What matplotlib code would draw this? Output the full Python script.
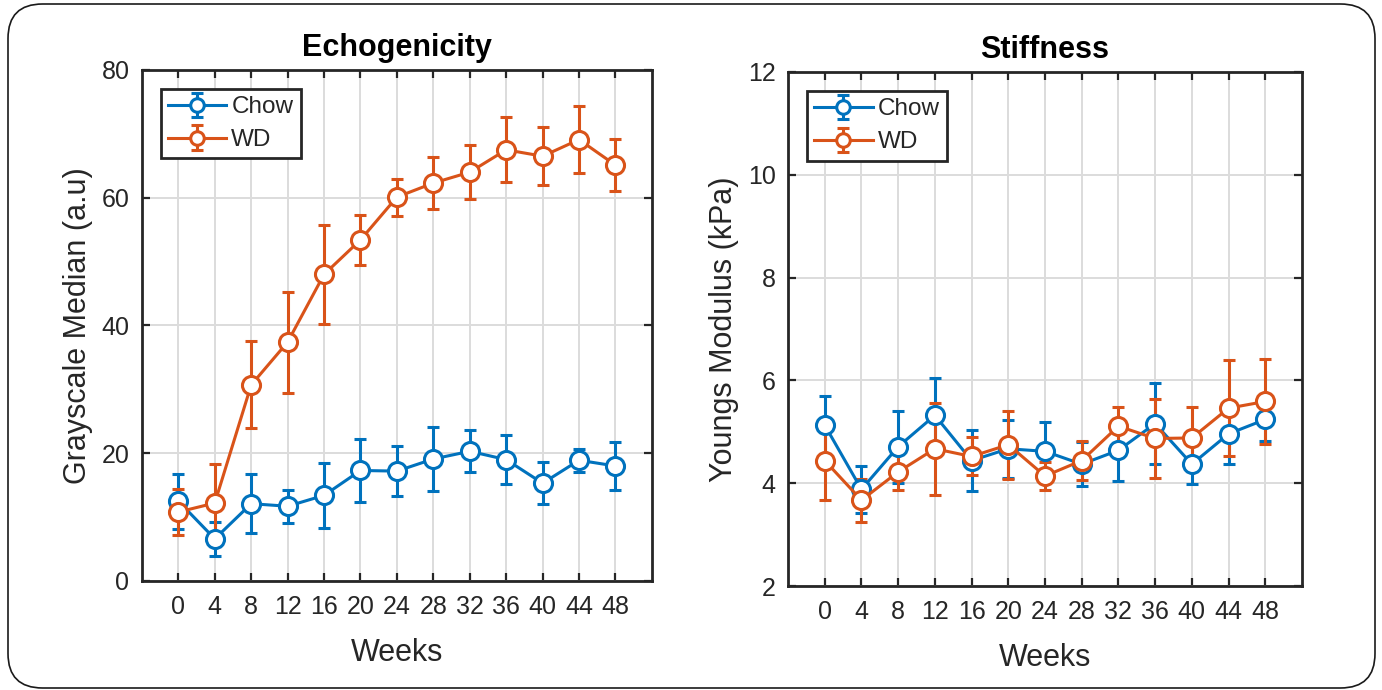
"""
Echogenicity and stiffness over time, Chow vs WD diet.
"""

import matplotlib
matplotlib.use('Agg')
import matplotlib.pyplot as plt
from matplotlib.patches import FancyBboxPatch

plt.rcParams['font.family'] = ['Liberation Sans', 'DejaVu Sans']

weeks = [0, 4, 8, 12, 16, 20, 24, 28, 32, 36, 40, 44, 48]

# Echogenicity (grayscale median, a.u)
echo_chow = [12.5, 6.6, 12.1, 11.7, 13.4, 17.3, 17.2, 19.1, 20.3, 19.0, 15.3, 18.9, 18.0]
echo_chow_err = [4.3, 2.7, 4.6, 2.6, 5.1, 4.9, 3.9, 5.0, 3.3, 3.8, 3.3, 1.8, 3.7]
echo_wd = [10.8, 12.2, 30.7, 37.4, 48.0, 53.4, 60.1, 62.3, 64.0, 67.5, 66.5, 69.1, 65.1]
echo_wd_err = [3.6, 6.1, 6.8, 7.9, 7.8, 3.9, 2.9, 4.1, 4.2, 5.1, 4.5, 5.2, 4.1]

# Stiffness (Youngs modulus, kPa)
stiff_chow = [5.13, 3.88, 4.71, 5.32, 4.44, 4.67, 4.62, 4.37, 4.64, 5.16, 4.37, 4.96, 5.24]
stiff_chow_err = [0.57, 0.45, 0.70, 0.72, 0.60, 0.56, 0.57, 0.43, 0.60, 0.78, 0.38, 0.59, 0.42]
stiff_wd = [4.44, 3.67, 4.22, 4.67, 4.52, 4.75, 4.14, 4.44, 5.11, 4.87, 4.88, 5.46, 5.59]
stiff_wd_err = [0.76, 0.42, 0.35, 0.90, 0.37, 0.66, 0.28, 0.38, 0.37, 0.76, 0.61, 0.94, 0.83]

BLUE = '#0072BD'
ORANGE = '#D95319'
DARK = '#262626'


def draw_panel(ax, chow, chow_err, wd, wd_err, title, ylabel, ylim, yticks):
	ax.set_axisbelow(True)
	ax.grid(True, color='#dcdcdc', linewidth=1.4)
	for vals, errs, color, label in [(chow, chow_err, BLUE, 'Chow'), (wd, wd_err, ORANGE, 'WD')]:
		ax.errorbar(weeks, vals, yerr=errs, fmt='-o', color=color, mfc='white', mec=color,
			ms=13, mew=2.2, lw=2.2, elinewidth=2.2, capsize=4.5, capthick=2.2, label=label)
	ax.set_xlim(-4, 52)
	ax.set_ylim(*ylim)
	ax.set_xticks(weeks)
	ax.set_yticks(yticks)
	ax.tick_params(direction='in', top=True, right=True, length=6, width=1.6,
		labelsize=18, colors=DARK)
	ax.tick_params(axis='x', pad=10)
	ax.tick_params(axis='y', pad=9)
	for sp in ax.spines.values():
		sp.set_linewidth(2)
		sp.set_color(DARK)
	ax.set_title(title, fontsize=22, fontweight='bold', color='black', pad=10)
	ax.set_xlabel('Weeks', fontsize=22, color=DARK, labelpad=14)
	ax.set_ylabel(ylabel, fontsize=22, color=DARK, labelpad=6)
	leg = ax.legend(loc='upper left', bbox_to_anchor=(0.037, 0.963), borderaxespad=0,
		fontsize=17.5, fancybox=False, framealpha=1, edgecolor=DARK, handlelength=2.4,
		handletextpad=0.2, labelspacing=0.45, borderpad=0.3, markerscale=0.75)
	leg.get_frame().set_linewidth(2)
	for t in leg.get_texts():
		t.set_color(DARK)


fig = plt.figure(figsize=(13.82, 6.90), dpi=100)

ax1 = fig.add_axes([0.1027, 0.158, 0.369, 0.7406])
draw_panel(ax1, echo_chow, echo_chow_err, echo_wd, echo_wd_err,
	'Echogenicity', 'Grayscale Median (a.u)', (0, 80), [0, 20, 40, 60, 80])

ax2 = fig.add_axes([0.5702, 0.1507, 0.3719, 0.745])
draw_panel(ax2, stiff_chow, stiff_chow_err, stiff_wd, stiff_wd_err,
	'Stiffness', 'Youngs Modulus (kPa)', (2, 12), [2, 4, 6, 8, 10, 12])

# rounded frame around the whole figure
frame = FancyBboxPatch((8 / 1382, 2 / 690), 1367 / 1382, 684 / 690,
	boxstyle='round,pad=0,rounding_size=0.025', transform=fig.transFigure,
	fill=False, edgecolor='#1a1a1a', linewidth=1.2, mutation_aspect=2.0)
fig.patches.append(frame)

fig.savefig('out.png', dpi=100)
plt.close(fig)
